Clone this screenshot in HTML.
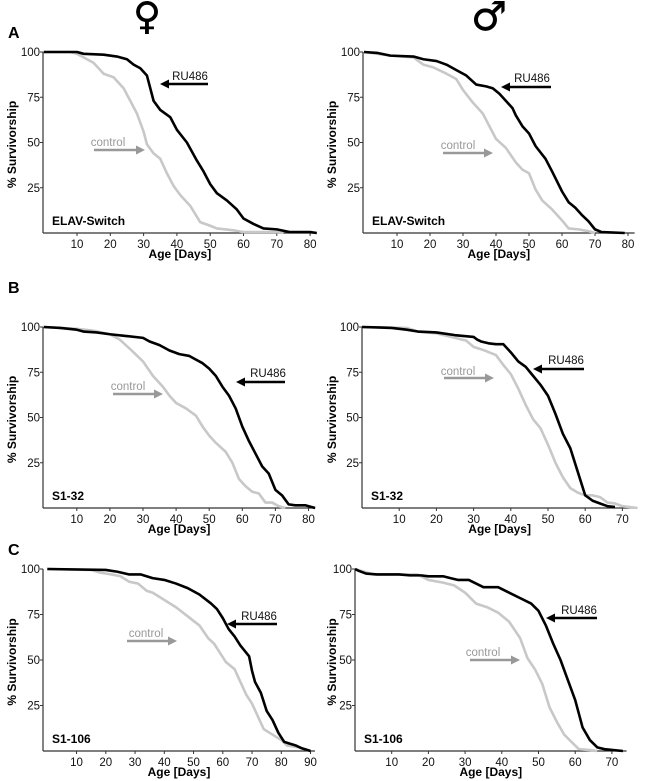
<!DOCTYPE html>
<html><head><meta charset="utf-8"><style>
body{margin:0;background:#fff;}
svg{display:block;font-family:"Liberation Sans",sans-serif;}
</style></head><body>
<svg id="fig" width="672" height="781" viewBox="0 0 672 781" xmlns="http://www.w3.org/2000/svg">
<text x="147" y="29" font-size="38" text-anchor="middle" stroke="#000" stroke-width="0.5" font-family="DejaVu Sans, sans-serif">♀</text>
<text x="489" y="30" font-size="40" text-anchor="middle" stroke="#000" stroke-width="0.5" font-family="DejaVu Sans, sans-serif">♂</text>
<text x="8" y="38" font-size="16" font-weight="bold">A</text>
<text x="8" y="293" font-size="16" font-weight="bold">B</text>
<text x="8" y="555" font-size="16" font-weight="bold">C</text>
</svg>
<script>
// ---- data (day, % survivorship) ----
const aFemRU=[[0,100],[10,100],[12,99],[18,98.5],[22,97.5],[25,96],[27,93],[29,91],[31,87],[32,80],[33,73],[35,68],[38,64],[40,57],[43,50],[46,40],[48,34],[50,27],[52,22],[55,18],[58,13],[60,8],[63,5],[66,2.5],[70,2],[74,0.5],[80,0.5],[82,0]];
const aFemCtl=[[0,100],[8,100],[10,99],[15,94],[18,88],[21,86],[24,80],[26,73],[28,66],[30,56],[31,49],[33,44],[35,41],[37,33],[39,26],[41,21],[44,15],[46,9],[47,6],[50,4],[52,2.5],[57,1.5],[60,0.5],[70,0.5],[72,0]];
const aMalRU=[[0,100],[4,99.5],[8,98],[15,97.5],[18,96],[22,95],[25,93],[28,90],[31,87],[34,82],[37,81],[39,80],[41,77],[43,73],[45,69],[46,65],[48,59],[50,55],[52,48],[55,41],[57,34],[60,23],[62,17],[64,14],[66,10],[68,6.5],[70,2],[72,0.5],[79,0]];
const aMalCtl=[[0,100],[8,98],[15,97],[18,93],[21,91.5],[25,88],[28,85],[30,79],[33,72],[36,66],[38,59],[40,52],[43,47],[46,39],[48,35],[50,33],[52,24],[54,18],[57,13],[60,7],[62,2.5],[65,2],[68,1],[70,0]];
const bFemRU=[[0,100],[5,99.5],[10,98.5],[12,97.5],[16,97],[20,96],[25,95],[30,94],[32,92],[35,90],[38,87],[41,85],[44,84],[46,82],[48,80],[50,77],[52,73],[54,67],[56,62],[58,55],[60,45],[62,37],[64,30],[66,23],[68,19],[70,10],[72,7],[74,2],[76,1.5],[79,1.5],[82,0]];
const bFemCtl=[[0,100],[10,99],[15,98],[20,96],[23,93],[26,88],[30,81],[33,73],[36,67],[38,62],[40,58],[43,55],[46,51],[48,45],[50,40],[52,36],[55,31],[57,25],[59,16],[61,12],[63,9],[65,8],[67,3],[69,3],[71,1],[73,0]];
const bMalRU=[[0,100],[8,99.5],[12,98.5],[15,97.5],[20,97],[25,95.5],[30,94.5],[31,93],[32,92],[34,91],[36,90.5],[38,90.5],[40,86],[42,81],[44,78],[46,73],[48,68],[50,62],[52,52],[54,41],[56,33],[58,20],[60,7],[62,4],[64,2.5],[66,1],[68,0.5]];
const bMalCtl=[[0,100],[12,99.5],[15,97.5],[20,96.5],[25,94],[28,92.5],[30,89],[33,87],[36,84.5],[38,79],[40,74],[42,66],[44,57],[46,49],[48,44],[50,35],[52,25],[54,17],[56,11],[58,8.5],[60,7],[62,7],[64,6],[66,3],[68,2.5],[70,1],[74,0]];
const cFemRU=[[0,100],[20,99.5],[24,98.5],[28,97],[32,97],[36,95],[40,94],[44,92],[48,89.5],[52,86],[56,81],[58,78],[60,73],[62,67],[64,63],[66,58],[68,54],[69,52],[70,44],[71,38],[73,32],[75,22],[77,17],[79,10],[81,5],[83,4],[85,3],[87,1.5],[90,0]];
const cFemCtl=[[0,100],[15,99.5],[18,98],[22,97],[25,96],[28,93],[31,92],[34,88],[36,87],[40,83],[44,79],[48,74],[52,69],[55,62],[57,59],[59,54],[61,49],[64,45],[66,38],[68,31],[70,26],[72,19],[74,12],[76,10],[78,8],[80,6],[82,3],[86,2],[90,0]];
const cMalRU=[[0,100],[1,99],[3,97.5],[6,97],[12,97],[15,96.5],[18,96.5],[20,96],[24,96],[26,95],[28,94],[31,94],[33,92],[35,90],[39,90],[42,87],[45,84],[48,81],[50,77],[52,69],[54,59],[56,50],[58,39],[60,28],[62,13],[64,6],[66,2],[68,1],[73,0]];
const cMalCtl=[[0,100],[5,97],[17,97],[20,94],[24,92.5],[27,91],[30,87],[33,81],[36,79],[39,76],[42,71],[45,62],[47,51],[49,45],[51,37],[53,24],[55,16],[57,9],[59,5],[61,1],[64,0.5],[66,0]];
const xTicks8=[10,20,30,40,50,60,70,80];
const xTicks7=[10,20,30,40,50,60,70];
const xTicks9=[10,20,30,40,50,60,70,80,90];
const yTicks=[25,50,75,100];

const NS="http://www.w3.org/2000/svg";
const svg=document.getElementById('fig');
function mk(tag,attrs,parent){const e=document.createElementNS(NS,tag);for(const k in attrs)e.setAttribute(k,attrs[k]);(parent||svg).appendChild(e);return e;}

const panels=[
 {id:'a-female',x0:43.7,k:3.33,ax0:43,xmax:82,y100:52,y0:233,ticks:xTicks8,ru:aFemRU,ctl:aFemCtl,strain:'ELAV-Switch',ylab:12,
  ruT:[190,80],ruA:[208,160,84],ctT:[108,146],ctA:[94,145,150]},
 {id:'a-male',x0:364,k:3.3,ax0:363,xmax:82,y100:52,y0:233,ticks:xTicks8,ru:aMalRU,ctl:aMalCtl,strain:'ELAV-Switch',ylab:332,
  ruT:[532,82],ruA:[551,501,87],ctT:[458,149],ctA:[443,493,153]},
 {id:'b-female',x0:43.7,k:3.31,ax0:43,xmax:82,y100:327,y0:508,ticks:xTicks8,ru:bFemRU,ctl:bFemCtl,strain:'S1-32',ylab:12,
  ruT:[268,377],ruA:[285,236,382],ctT:[128,390],ctA:[113,163,394]},
 {id:'b-male',x0:362,k:3.72,ax0:362,xmax:74,y100:327,y0:508,ticks:xTicks7,ru:bMalRU,ctl:bMalCtl,strain:'S1-32',ylab:332,
  ruT:[566,364],ruA:[584,533,369],ctT:[458,375],ctA:[444,494,378]},
 {id:'c-female',x0:47.3,k:2.925,ax0:43,xmax:91.5,y100:569,y0:751,ticks:xTicks9,ru:cFemRU,ctl:cFemCtl,strain:'S1-106',ylab:12,
  ruT:[259,620],ruA:[277,227,624],ctT:[146,637],ctA:[127,177,641]},
 {id:'c-male',x0:355,k:3.67,ax0:355,xmax:74,y100:569,y0:751,ticks:xTicks7,ru:cMalRU,ctl:cMalCtl,strain:'S1-106',ylab:332,
  ruT:[579,614],ruA:[597,546,618],ctT:[483,656],ctA:[470,520,660]}
];

function arrow(g,x1,x2,y,col,name){
  const dir=x2>x1?1:-1;
  const l=mk('line',{x1:x1,y1:y,x2:x2-dir*6,y2:y,stroke:col,'stroke-width':2.5},g);
  
  
  const p=mk('polygon',{points:`${x2},${y} ${x2-dir*9},${y-4.5} ${x2-dir*9},${y+4.5}`,fill:col},g);
  
  
}

panels.forEach(P=>{
  const g=mk('g',{});
  
  
  const X=d=>P.x0+d*P.k, Y=v=>P.y0-(v/100)*(P.y0-P.y100);
  const xEnd=X(P.xmax);
  const xa=mk('line',{x1:P.ax0,y1:P.y0,x2:xEnd,y2:P.y0,stroke:'#333','stroke-width':1.2},g);
  
  
  const ya=mk('line',{x1:P.ax0,y1:P.y100,x2:P.ax0,y2:P.y0,stroke:'#333','stroke-width':1.2},g);
  
  
  P.ticks.forEach(t=>{
    const tl=mk('line',{x1:X(t),y1:P.y0,x2:X(t),y2:P.y0+3,stroke:'#333','stroke-width':1},g);
    
    
    const tx=mk('text',{x:X(t),y:P.y0+15,'font-size':11.5,'text-anchor':'middle',fill:'#111'},g);
    tx.textContent=t;
    
    
  });
  yTicks.forEach(t=>{
    const tl=mk('line',{x1:P.ax0-3,y1:Y(t),x2:P.ax0,y2:Y(t),stroke:'#333','stroke-width':1},g);
    
    
    const tx=mk('text',{x:P.ax0-3,y:Y(t)+4,'font-size':11.5,'text-anchor':'end',fill:'#111'},g);
    tx.textContent=t;
    
    
  });
  const xt=mk('text',{x:(P.ax0+xEnd)/2,y:P.y0+25,'font-size':12,'font-weight':'bold','text-anchor':'middle'},g);
  xt.textContent='Age [Days]';
  
  
  const yc=(P.y0+P.y100)/2+2;
  const yt=mk('text',{x:0,y:0,'font-size':12,'font-weight':'bold','text-anchor':'middle',transform:`translate(${P.ylab+4},${yc}) rotate(-90)`},g);
  yt.textContent='% Survivorship';
  
  
  const st=mk('text',{x:P.ax0+9,y:P.y0-8,'font-size':12,'font-weight':'bold'},g);
  st.textContent=P.strain;
  
  
  const pc=mk('polyline',{points:P.ctl.map(d=>X(d[0])+','+Y(d[1])).join(' '),fill:'none',stroke:'#c8c8c8','stroke-width':2.6,'stroke-linejoin':'round'},g);
  
  
  const pr=mk('polyline',{points:P.ru.map(d=>X(d[0])+','+Y(d[1])).join(' '),fill:'none',stroke:'#000','stroke-width':2.6,'stroke-linejoin':'round'},g);
  
  
  const rt=mk('text',{x:P.ruT[0],y:P.ruT[1],'font-size':11.5,'text-anchor':'middle',fill:'#111'},g);
  rt.textContent='RU486';
  
  
  arrow(g,P.ruA[0],P.ruA[1],P.ruA[2],'#000','ru486-arrow');
  const ct=mk('text',{x:P.ctT[0],y:P.ctT[1],'font-size':11.5,'text-anchor':'middle',fill:'#999'},g);
  ct.textContent='control';
  
  
  arrow(g,P.ctA[0],P.ctA[1],P.ctA[2],'#999','control-arrow');
});
</script>
</body></html>
